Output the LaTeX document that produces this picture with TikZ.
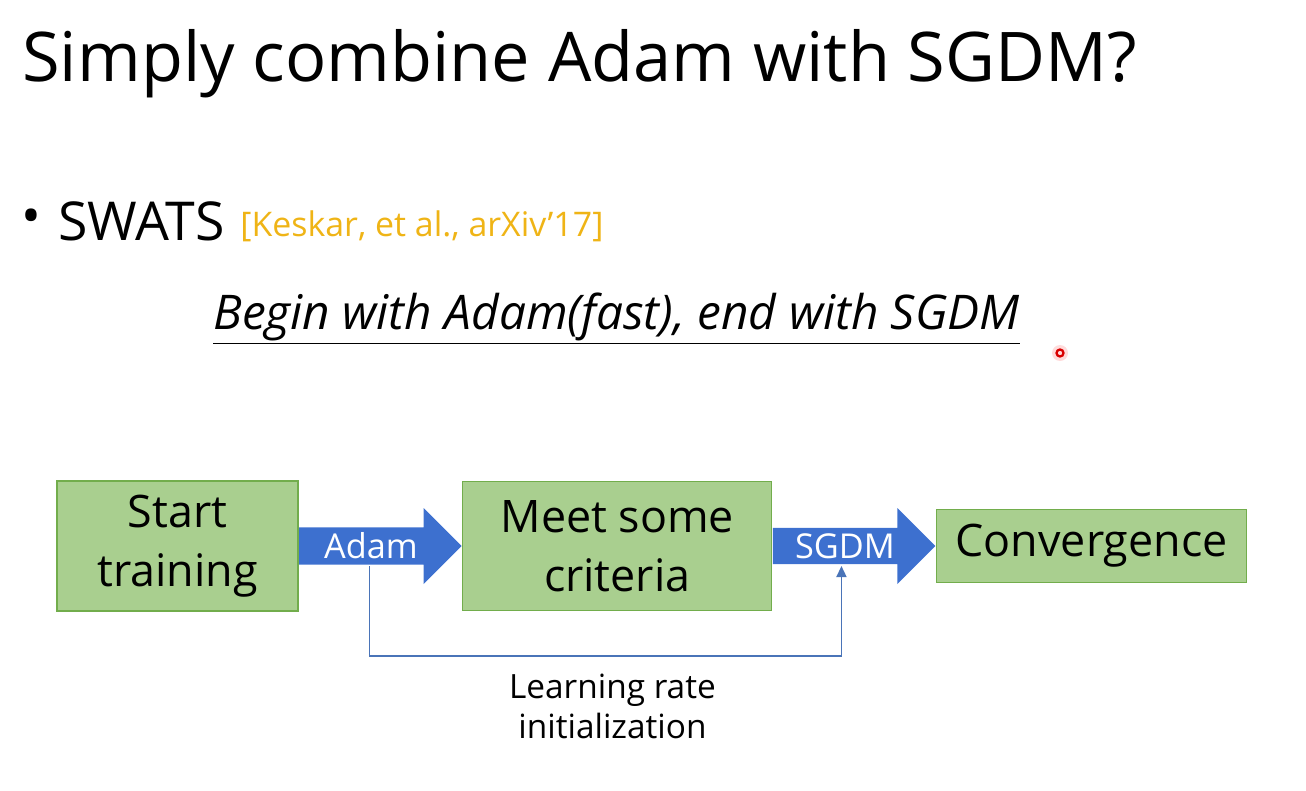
\documentclass[tikz,border=0pt]{standalone}
\usepackage{fontspec}
\setmainfont{Open Sans}
\usepackage{xcolor}
\usepackage{tikz}
\usetikzlibrary{arrows.meta,positioning,shapes.arrows}

\definecolor{boxfill}{HTML}{A9CF8F}
\definecolor{boxline}{HTML}{72AD4C}
\definecolor{arrblue}{HTML}{3D70CF}
\definecolor{fbline}{HTML}{4A74B8}
\definecolor{citeorange}{HTML}{EFB416}

\begin{document}
\begin{tikzpicture}[
        box/.style={draw=boxline, line width=0.8pt, fill=boxfill, align=center, inner sep=0pt,
            font=\fontsize{25.5}{33.5}\selectfont},
        blockarr/.style={single arrow, fill=arrblue, draw=none, inner sep=0pt,
            minimum width=1.52cm, minimum height=3.25cm, single arrow head extend=0.28cm,
            text=white, font=\fontsize{19.5}{22}\selectfont},
        fb/.style={draw=fbline, line width=0.9pt, -{Triangle[length=2.2mm, width=2mm]}}
    ]
        \useasboundingbox (0,0) rectangle (26.12,-15.82);
        \node[anchor=base west, inner sep=0pt, font=\fontsize{39}{47}\selectfont] (title) at (0.44,-1.64) {Simply combine Adam with SGDM?};
        \node[inner sep=0pt, font=\fontsize{30}{36}\selectfont] (bul) at (0.62,-4.44) {\textbullet};
        \node[anchor=base west, inner sep=0pt, font=\fontsize{30.5}{36}\selectfont] (swats) at (1.16,-4.8) {SWATS};
        \node[anchor=base west, inner sep=0pt, text=citeorange, font=\fontsize{19.3}{24}\selectfont] (cite) at (4.8,-4.72) {[Keskar, et al., arXiv'17]};
        \node[anchor=base, inner sep=0pt, font=\fontsize{27.2}{33}\selectfont\itshape] (motto) at (12.33,-6.58) {\underline{Begin with Adam(fast), end with SGDM}};

        \node[box, minimum width=4.82cm, minimum height=2.6cm] (start) at (3.55,-10.92) {Start\\training};
        \node[blockarr, right=0pt of start] (adam) {Adam};
        \node[box, right=0pt of adam, minimum width=6.18cm, minimum height=2.58cm] (meet) {Meet some\\criteria};
        \node[blockarr, right=0pt of meet] (sgdm) {SGDM};
        \node[box, right=0pt of sgdm, minimum width=6.2cm, minimum height=1.46cm] (conv) {Convergence};

        \draw[fb] ([xshift=-0.03cm, yshift=-0.4cm]adam.center) -- ++(0,-1.8) -| ([xshift=-0.07cm, yshift=-0.4cm]sgdm.center)
            node[pos=0.25, below=0.22cm, xshift=0.14cm, align=center, font=\fontsize{19}{23}\selectfont] (lr) {Learning rate\\initialization};

        % laser pointer
        \fill[red!40, opacity=0.35] (21.2,-7.06) circle (0.16);
        \draw[red!85!black, line width=1.3pt] (21.2,-7.06) circle (0.07);
    \end{tikzpicture}
\end{document}
